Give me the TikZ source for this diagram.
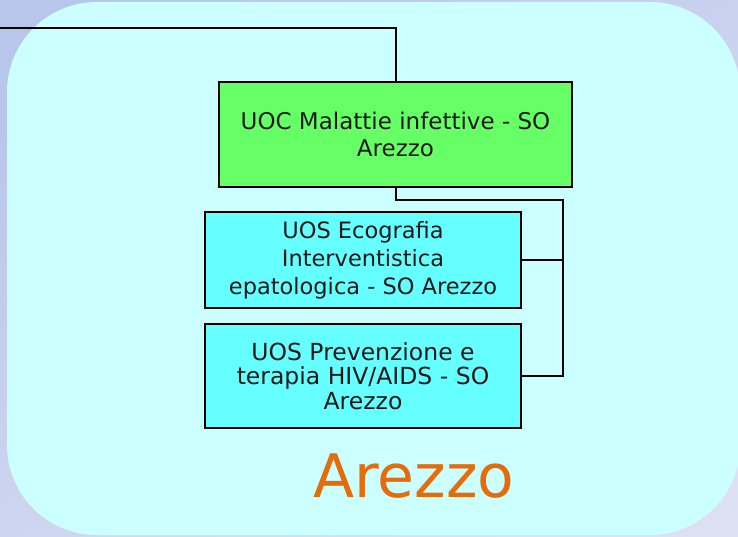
\documentclass[tikz,border=0pt]{standalone}
\usepackage{fontspec}
\setmainfont{DejaVu Sans}
\definecolor{bgA}{HTML}{B9C6EC}
\definecolor{bgB}{HTML}{DCE0F2}
\definecolor{panel}{HTML}{CCFFFF}
\definecolor{greenbox}{HTML}{66FF66}
\definecolor{cyanbox}{HTML}{66FFFF}
\definecolor{txt}{HTML}{1A1A1A}
\definecolor{orangetxt}{HTML}{E46C0A}
\tikzset{
  unit/.style={draw=black, line width=2pt, inner sep=0pt, align=center, text=txt},
  conn/.style={draw=black, line width=2pt},
}
\begin{document}
\begin{tikzpicture}[x=1pt, y=-1pt]
\useasboundingbox (0,0) rectangle (738,537);
\shade[top color=bgA, bottom color=bgB, shading angle=30] (0,0) rectangle (738,537);
\fill[panel, rounded corners=90pt] (7,2) rectangle (740,535);

\node[unit, fill=greenbox, minimum width=353pt, minimum height=105pt,
  font=\fontsize{23}{27}\selectfont] (g) at (395.5,134.5)
  {UOC Malattie infettive - SO\\Arezzo};
\node[unit, fill=cyanbox, minimum width=316pt, minimum height=96pt,
  font=\fontsize{22.5}{28}\selectfont] (b1) at (363,260)
  {UOS Ecografia\\Interventistica\\epatologica - SO Arezzo};
\node[unit, fill=cyanbox, minimum width=316pt, minimum height=104pt,
  font=\fontsize{23.5}{24.5}\selectfont] (b2) at (363,376)
  {UOS Prevenzione e\\terapia HIV/AIDS - SO\\Arezzo};

\coordinate (start) at (0,28.5);
\coordinate (jn) at (563,200);
\draw[conn] (start) -| (g.north);
\draw[conn] (g.south) |- (jn) |- (b2.east);
\draw[conn] (b1.east) -- (b1.east -| jn);

\node[text=orangetxt, font=\fontsize{60}{60}\selectfont, inner sep=0pt, anchor=base] (city) at (414,497) {Arezzo};
\end{tikzpicture}
\end{document}
